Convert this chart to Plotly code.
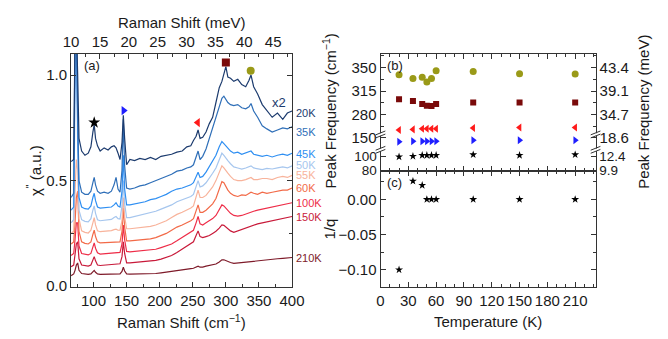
import plotly.graph_objects as go

# ---------------- data ----------------
raman_shift = [66, 70, 72, 74, 76, 78, 82, 87, 92, 96, 99, 101, 103, 106, 110, 116, 122, 127, 131, 134,
               137, 140, 143, 145, 147, 150, 155, 162, 170, 178, 186, 194, 202, 210, 218, 226, 234, 241,
               247, 251, 255, 258, 261, 265, 270, 275, 280, 285, 290, 294, 297, 300, 303, 307, 312, 318,
               324, 330, 335, 338, 342, 348, 355, 362, 370, 378, 386, 393, 400]

chi_20K = [0.59, 0.60, 1.20, 1.25, 1.00, 0.70, 0.64, 0.62, 0.63, 0.66, 0.73, 0.765, 0.70, 0.665, 0.64,
           0.655, 0.645, 0.66, 0.665, 0.655, 0.63, 0.60, 0.68, 0.81, 0.70, 0.575, 0.60, 0.595, 0.605, 0.60,
           0.61, 0.60, 0.615, 0.62, 0.625, 0.635, 0.64, 0.66, 0.665, 0.69, 0.71, 0.74, 0.70, 0.705, 0.73,
           0.77, 0.80, 0.87, 0.94, 0.97, 1.00, 1.04, 0.99, 0.985, 0.97, 0.98, 0.955, 0.945, 0.975, 1.00,
           0.945, 0.91, 0.86, 0.83, 0.80, 0.82, 0.79, 0.82, 0.83]
chi_35K = [0.42, 0.44, 1.20, 1.25, 0.80, 0.50, 0.445, 0.435, 0.435, 0.45, 0.49, 0.515, 0.48, 0.45, 0.44,
           0.445, 0.44, 0.45, 0.48, 0.515, 0.46, 0.445, 0.55, 0.79, 0.57, 0.465, 0.46, 0.465, 0.475, 0.48,
           0.49, 0.50, 0.51, 0.52, 0.53, 0.545, 0.55, 0.56, 0.565, 0.575, 0.61, 0.64, 0.60, 0.615, 0.65,
           0.70, 0.75, 0.81, 0.86, 0.89, 0.90, 0.885, 0.87, 0.86, 0.855, 0.86, 0.845, 0.84, 0.85, 0.865,
           0.83, 0.80, 0.76, 0.745, 0.73, 0.74, 0.75, 0.745, 0.755]
chi_45K = [0.36, 0.375, 1.10, 1.25, 0.75, 0.42, 0.375, 0.367, 0.365, 0.38, 0.42, 0.44, 0.405, 0.375, 0.37,
           0.372, 0.375, 0.375, 0.385, 0.395, 0.38, 0.375, 0.45, 0.62, 0.46, 0.385, 0.385, 0.39, 0.395, 0.40,
           0.41, 0.415, 0.425, 0.435, 0.45, 0.46, 0.465, 0.475, 0.48, 0.49, 0.52, 0.54, 0.515, 0.52, 0.54,
           0.565, 0.59, 0.62, 0.66, 0.685, 0.675, 0.665, 0.655, 0.64, 0.63, 0.635, 0.625, 0.63, 0.635, 0.64,
           0.625, 0.62, 0.615, 0.62, 0.612, 0.62, 0.625, 0.62, 0.63]
chi_50K = [0.30, 0.315, 0.90, 1.20, 0.65, 0.36, 0.315, 0.307, 0.305, 0.32, 0.36, 0.38, 0.345, 0.315, 0.31,
           0.312, 0.315, 0.316, 0.325, 0.33, 0.32, 0.318, 0.38, 0.50, 0.39, 0.325, 0.325, 0.33, 0.335, 0.34,
           0.348, 0.355, 0.365, 0.375, 0.385, 0.40, 0.41, 0.42, 0.425, 0.435, 0.475, 0.50, 0.47, 0.475, 0.49,
           0.51, 0.535, 0.56, 0.60, 0.63, 0.62, 0.605, 0.595, 0.58, 0.565, 0.56, 0.555, 0.56, 0.565, 0.57,
           0.56, 0.555, 0.552, 0.558, 0.555, 0.56, 0.565, 0.56, 0.57]
chi_55K = [0.25, 0.26, 0.45, 0.60, 0.55, 0.32, 0.262, 0.255, 0.252, 0.265, 0.30, 0.325, 0.29, 0.262, 0.258,
           0.26, 0.262, 0.263, 0.268, 0.27, 0.265, 0.265, 0.31, 0.42, 0.33, 0.272, 0.272, 0.275, 0.278, 0.28,
           0.283, 0.29, 0.30, 0.31, 0.325, 0.34, 0.35, 0.36, 0.37, 0.38, 0.42, 0.455, 0.42, 0.42, 0.43,
           0.45, 0.47, 0.50, 0.54, 0.57, 0.56, 0.545, 0.535, 0.52, 0.505, 0.50, 0.50, 0.505, 0.51, 0.515,
           0.505, 0.505, 0.51, 0.51, 0.505, 0.515, 0.52, 0.515, 0.525]
chi_60K = [0.20, 0.21, 0.30, 0.42, 0.45, 0.26, 0.21, 0.203, 0.20, 0.21, 0.245, 0.265, 0.235, 0.21, 0.205,
           0.206, 0.208, 0.208, 0.21, 0.212, 0.21, 0.21, 0.26, 0.37, 0.28, 0.215, 0.215, 0.217, 0.219, 0.221,
           0.224, 0.23, 0.24, 0.25, 0.265, 0.28, 0.29, 0.30, 0.31, 0.32, 0.355, 0.385, 0.35, 0.35, 0.36,
           0.375, 0.39, 0.415, 0.455, 0.495, 0.49, 0.47, 0.455, 0.44, 0.43, 0.425, 0.432, 0.43, 0.44, 0.445,
           0.44, 0.435, 0.445, 0.44, 0.445, 0.45, 0.455, 0.455, 0.465]
chi_100K = [0.145, 0.155, 0.22, 0.30, 0.30, 0.19, 0.155, 0.15, 0.148, 0.155, 0.185, 0.205, 0.18, 0.158, 0.152,
            0.153, 0.155, 0.156, 0.157, 0.158, 0.158, 0.16, 0.20, 0.29, 0.22, 0.165, 0.163, 0.165, 0.167, 0.169,
            0.171, 0.175, 0.183, 0.19, 0.20, 0.215, 0.23, 0.245, 0.255, 0.265, 0.30, 0.33, 0.295, 0.29, 0.30,
            0.31, 0.32, 0.335, 0.36, 0.385, 0.38, 0.37, 0.355, 0.345, 0.335, 0.332, 0.335, 0.342, 0.35, 0.352,
            0.355, 0.36, 0.365, 0.37, 0.375, 0.38, 0.385, 0.39, 0.395]
chi_150K = [0.092, 0.10, 0.15, 0.20, 0.21, 0.13, 0.10, 0.096, 0.095, 0.10, 0.125, 0.14, 0.12, 0.10, 0.098,
            0.099, 0.10, 0.101, 0.102, 0.103, 0.104, 0.106, 0.14, 0.21, 0.155, 0.11, 0.11, 0.112, 0.114, 0.116,
            0.118, 0.122, 0.128, 0.135, 0.145, 0.16, 0.175, 0.19, 0.20, 0.21, 0.24, 0.262, 0.235, 0.23, 0.235,
            0.24, 0.25, 0.26, 0.275, 0.29, 0.288, 0.28, 0.27, 0.262, 0.255, 0.262, 0.268, 0.275, 0.28, 0.285,
            0.29, 0.295, 0.30, 0.305, 0.31, 0.315, 0.32, 0.325, 0.33]
chi_210K = [0.05, 0.058, 0.075, 0.10, 0.11, 0.075, 0.06, 0.057, 0.056, 0.058, 0.068, 0.075, 0.066, 0.058, 0.056,
            0.056, 0.057, 0.057, 0.057, 0.057, 0.057, 0.058, 0.07, 0.09, 0.072, 0.058, 0.057, 0.057, 0.057, 0.058,
            0.058, 0.06, 0.063, 0.066, 0.07, 0.073, 0.077, 0.08, 0.083, 0.085, 0.09, 0.095, 0.09, 0.09, 0.095,
            0.098, 0.102, 0.105, 0.115, 0.125, 0.125, 0.12, 0.117, 0.112, 0.108, 0.11, 0.112, 0.115, 0.118, 0.12,
            0.12, 0.122, 0.124, 0.126, 0.128, 0.13, 0.132, 0.134, 0.136]

spectra_labels = ["20K", "35K", "45K", "50K", "55K", "60K", "100K", "150K", "210K"]
spectra_colors = ["#1c3b6e", "#2f6fb8", "#2f8ff2", "#a6c6ee", "#f8b39b", "#f26a48", "#ee2d48", "#c81a3a", "#7e1a29"]
label_y = [0.82, 0.73, 0.626, 0.576, 0.525, 0.466, 0.394, 0.33, 0.135]

# phonon peak markers in panel (a)
mark_x = [101, 145.5, 257.5, 300, 337.5]
mark_y = [0.775, 0.832, 0.775, 1.06, 1.02]
mark_symbol = ["star", "triangle-right", "triangle-left", "square", "circle"]
mark_color = ["#000000", "#1f1fff", "#ff1a1a", "#7a0a0a", "#9a9a18"]

# panel (b), (c)
temperature = [20, 35, 45, 50, 55, 60, 100, 150, 210]
peak_circle = [339.1, 333.4, 335.4, 328.3, 333.4, 344.8, 343.9, 340.5, 340.1]
peak_square = [302.8, 300.4, 295.7, 293.3, 292.9, 295.7, 298.0, 298.0, 298.0]
peak_tri_left = [257.5, 258.3, 259.3, 259.3, 259.3, 259.3, 260.3, 261.2, 261.2]
peak_tri_right = [143.8, 144.7, 144.7, 144.7, 144.7, 144.7, 146.0, 146.0, 146.0]
peak_star = [99.2, 100.0, 101.3, 101.3, 101.3, 101.3, 102.2, 101.3, 102.2]
inv_q = [-0.10, 0.026, 0.020, 0.0, 0.0, 0.0, 0.0, 0.0, 0.0]

top_ticks_cm = [280, 315, 350]
top_ticks_mev = ["34.7", "39.1", "43.4"]
mid_ticks_cm = [150]
mid_ticks_mev = ["18.6"]
low_ticks_cm = [80, 100]
low_ticks_mev = ["9.9", "12.4"]

# ---------------- layout helpers ----------------
W, H = 668, 339
def fx(p): return p / W
def fy(p): return 1 - p / H

FONT = "Arial, 'Liberation Sans', sans-serif"
AX = "#333333"
TXT = "#1a1a1a"

def axis(fs=15, **kw):
    d = dict(showline=True, linecolor=AX, linewidth=1, ticks="inside", ticklen=5, tickwidth=1,
             tickcolor=AX, showgrid=False, zeroline=False,
             tickfont=dict(family=FONT, size=fs, color=TXT))
    d.update(kw)
    return d

def minor(**kw):
    d = dict(ticks="inside", ticklen=3, tickwidth=1, tickcolor=AX, showgrid=False)
    d.update(kw)
    return d

xa = [fx(65), fx(293)]
xb = [fx(384), fx(605.7)]
ya = [fy(292.7), fy(50)]
yb_top = [fy(134), fy(50)]
yb_mid = [fy(150), fy(134)]
yb_low = [fy(172), fy(150)]
yc = [fy(292.7), fy(172)]

fig = go.Figure()

spectra = [chi_20K, chi_35K, chi_45K, chi_50K, chi_55K, chi_60K, chi_100K, chi_150K, chi_210K]
for vals, col in zip(spectra[::-1], spectra_colors[::-1]):
    fig.add_trace(go.Scatter(x=raman_shift, y=vals, mode="lines", line=dict(color=col, width=1.2),
                             xaxis="x", yaxis="y", showlegend=False, hoverinfo="skip"))

for i in range(len(mark_x)):
    fig.add_trace(go.Scatter(x=[mark_x[i]], y=[mark_y[i]], mode="markers",
                             marker=dict(symbol=mark_symbol[i], color=mark_color[i],
                                         size=9 if mark_symbol[i] == "star" else 8),
                             xaxis="x", yaxis="y", showlegend=False, hoverinfo="skip"))

fig.add_trace(go.Scatter(x=temperature, y=peak_circle, mode="markers",
                         marker=dict(symbol="circle", color="#9a9a18", size=7),
                         xaxis="x3", yaxis="y3", showlegend=False))
fig.add_trace(go.Scatter(x=temperature, y=peak_square, mode="markers",
                         marker=dict(symbol="square", color="#7a0a0a", size=6),
                         xaxis="x3", yaxis="y3", showlegend=False))
fig.add_trace(go.Scatter(x=temperature, y=peak_tri_left, mode="markers",
                         marker=dict(symbol="triangle-left", color="#ff1a1a", size=7),
                         xaxis="x3", yaxis="y3", showlegend=False))
fig.add_trace(go.Scatter(x=temperature, y=peak_tri_right, mode="markers",
                         marker=dict(symbol="triangle-right", color="#1f1fff", size=7),
                         xaxis="x5", yaxis="y5", showlegend=False))
fig.add_trace(go.Scatter(x=temperature, y=peak_star, mode="markers",
                         marker=dict(symbol="star", color="#000000", size=6),
                         xaxis="x7", yaxis="y7", showlegend=False))
fig.add_trace(go.Scatter(x=temperature, y=inv_q, mode="markers",
                         marker=dict(symbol="star", color="#000000", size=6),
                         xaxis="x9", yaxis="y9", showlegend=False))

# empty traces so that the secondary (meV) axes are drawn
for xr, yr in (("x2", "y"), ("x3", "y4"), ("x5", "y6"), ("x7", "y8")):
    fig.add_trace(go.Scatter(x=[], y=[], mode="markers", xaxis=xr, yaxis=yr,
                             showlegend=False, hoverinfo="skip"))

T_RANGE = [0, 232]

fig.update_layout(
    width=W, height=H, margin=dict(l=0, r=0, t=0, b=0),
    paper_bgcolor="white", plot_bgcolor="white", showlegend=False,
    font=dict(family=FONT, size=15, color=TXT),
    # panel (a)
    xaxis=axis(domain=xa, anchor="y", range=[66, 400.3], tick0=0, dtick=50, minor=minor(dtick=25)),
    yaxis=axis(domain=ya, anchor="x", range=[-0.002, 1.1], tick0=0, dtick=0.5, tickformat=".1f",
               mirror="ticks", minor=minor(dtick=0.25)),
    xaxis2=axis(overlaying="x", anchor="y", side="top", range=[9.99, 48.3], tick0=0, dtick=5,
                minor=minor(dtick=2.5)),
    # panel (b) top segment
    xaxis3=axis(domain=xb, anchor="y3", side="top", range=T_RANGE, tick0=0, dtick=30,
                showticklabels=False, minor=minor(dtick=10)),
    yaxis3=axis(domain=yb_top, anchor="x3", range=[250.8, 369.8], tickmode="array", tickvals=top_ticks_cm,
                minor=minor(tick0=0, dtick=17.5)),
    yaxis4=axis(overlaying="y3", anchor="x3", side="right", range=[250.8, 369.8], tickmode="array",
                tickvals=top_ticks_cm, ticktext=top_ticks_mev, minor=minor(tick0=0, dtick=17.5)),
    # panel (b) middle segment
    xaxis5=dict(domain=xb, anchor="y5", range=T_RANGE, visible=False),
    yaxis5=axis(domain=yb_mid, anchor="x5", range=[132.7, 154], tickmode="array", tickvals=mid_ticks_cm),
    yaxis6=axis(overlaying="y5", anchor="x5", side="right", range=[132.7, 154], tickmode="array",
                tickvals=mid_ticks_cm, ticktext=mid_ticks_mev),
    # panel (b) lower segment
    xaxis7=axis(domain=xb, anchor="y7", side="bottom", range=T_RANGE, tick0=0, dtick=30,
                showticklabels=False, minor=minor(dtick=10)),
    yaxis7=axis(fs=13.5, domain=yb_low, anchor="x7", range=[79.5, 109], tickmode="array",
                tickvals=low_ticks_cm),
    yaxis8=axis(fs=13.5, overlaying="y7", anchor="x7", side="right", range=[79.5, 109], tickmode="array",
                tickvals=low_ticks_cm, ticktext=low_ticks_mev),
    # panel (c)
    xaxis9=axis(domain=xb, anchor="y9", range=T_RANGE, tick0=0, dtick=30, mirror="ticks",
                minor=minor(dtick=10)),
    yaxis9=axis(domain=yc, anchor="x9", range=[-0.124, 0.0405], tick0=0, dtick=0.05, tickformat=".2f",
                mirror="ticks", minor=minor(tick0=0, dtick=0.025)),
)

ann = []
def note(text, x, y, size=15, angle=0, color=TXT, xanchor="center"):
    ann.append(dict(text=text, x=x, y=y, xref="paper", yref="paper", showarrow=False, textangle=angle,
                    xanchor=xanchor, yanchor="middle", font=dict(family=FONT, size=size, color=color)))

note("Raman Shift (meV)", fx(179), fy(17))
note("Raman Shift (cm<sup>−1</sup>)", fx(179), fy(329))
note("χ<sup>\"</sup> (a.u.)", fx(27), fy(172), angle=-90)
note("Peak Frequency (cm<sup>−1</sup>)", fx(331), fy(110), angle=-90)
note("1/q", fx(331), fy(233), angle=-90)
note("Peak Frequency (meV)", fx(655), fy(110), angle=-90)
note("Temperature (K)", fx(495), fy(329))
note("(a)", fx(76), fy(62), size=13, xanchor="left")
note("(b)", fx(389), fy(62), size=13, xanchor="left")
note("(c)", fx(389), fy(184), size=13, xanchor="left")
for lab, col, yv in zip(spectra_labels, spectra_colors, label_y):
    ann.append(dict(text=lab, x=fx(294.5), y=yv, xref="paper", yref="y", showarrow=False,
                    xanchor="left", yanchor="middle", font=dict(family=FONT, size=11, color=col)))
ann.append(dict(text="x2", x=fx(279), y=0.868, xref="paper", yref="y", showarrow=False,
                xanchor="center", yanchor="middle", font=dict(family=FONT, size=13, color=spectra_colors[0])))
fig.update_layout(annotations=ann)

# axis-break symbols on panel (b)
shapes = []
for bx in (384, 605.7):
    for by in (134, 150):
        shapes.append(dict(type="rect", xref="paper", yref="paper", x0=fx(bx - 1.5), x1=fx(bx + 1.5),
                           y0=fy(by + 1.3), y1=fy(by - 1.3), fillcolor="white", line=dict(width=0),
                           layer="above"))
        for off in (-1.6, 1.6):
            shapes.append(dict(type="line", xref="paper", yref="paper",
                               x0=fx(bx - 5), y0=fy(by + off + 2), x1=fx(bx + 5), y1=fy(by + off - 2),
                               line=dict(color=AX, width=1), layer="above"))
fig.update_layout(shapes=shapes)

fig.write_html("out.html")
